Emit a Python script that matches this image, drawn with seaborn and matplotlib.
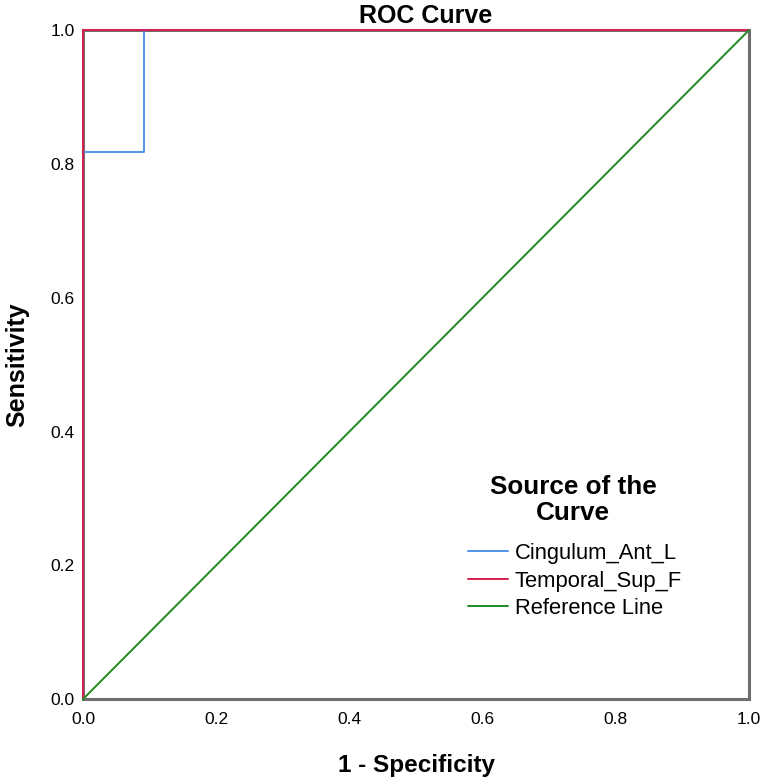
import matplotlib
matplotlib.use("Agg")
import matplotlib.pyplot as plt
import pandas as pd
import seaborn as sns

# ROC points
cing_fpr = [0.0, 0.0, 0.091, 0.091, 1.0]
cing_tpr = [0.0, 0.818, 0.818, 1.0, 1.0]
temp_fpr = [0.0, 0.0, 1.0]
temp_tpr = [0.0, 1.0, 1.0]
ref_fpr = [0.0, 1.0]
ref_tpr = [0.0, 1.0]

names = ["Cingulum_Ant_L", "Temporal_Sup_F", "Reference Line"]
colors = ["#4f95e6", "#d91e50", "#1f8a1f"]
ticks = [0.0, 0.2, 0.4, 0.6, 0.8, 1.0]

df = pd.concat([
    pd.DataFrame({"fpr": cing_fpr, "tpr": cing_tpr, "curve": names[0], "order": range(len(cing_fpr))}),
    pd.DataFrame({"fpr": temp_fpr, "tpr": temp_tpr, "curve": names[1], "order": range(len(temp_fpr))}),
    pd.DataFrame({"fpr": ref_fpr, "tpr": ref_tpr, "curve": names[2], "order": range(len(ref_fpr))}),
], ignore_index=True)

sns.set_style("white")
plt.rcParams["font.family"] = ["Liberation Sans", "DejaVu Sans"]
plt.rcParams["text.color"] = "black"

fig = plt.figure(figsize=(7.65, 7.82), dpi=100)
ax = fig.add_axes([0.1085, 0.106, 0.8706, 0.8555])

sns.lineplot(data=df, x="fpr", y="tpr", hue="curve", hue_order=names,
             palette=colors, estimator=None, sort=False, units="curve",
             linewidth=1.4, ax=ax, clip_on=False, zorder=3)

ax.set_xlim(0, 1)
ax.set_ylim(0, 1)
ax.set_xticks(ticks)
ax.set_yticks(ticks)
ax.set_xticklabels([f"{t:.1f}" for t in ticks])
ax.set_yticklabels([f"{t:.1f}" for t in ticks])
ax.tick_params(length=0, labelsize=12.5, colors="black")
ax.tick_params(axis="x", pad=9)
ax.tick_params(axis="y", pad=6)

for s in ax.spines.values():
    s.set_color("#6e6e6e")
    s.set_linewidth(2.2)

ax.set_title("ROC Curve", fontsize=18, fontweight="bold", pad=5, color="black", x=0.515)
ax.set_xlabel("1 - Specificity", fontsize=17.5, fontweight="bold", labelpad=20, color="black")
ax.set_ylabel("Sensitivity", fontsize=18, fontweight="bold", labelpad=15, color="black")

# legend title drawn as its own text so the gap to the entries matches
fig.text(573 / 765, 1 - 500 / 782, "Source of the\nCurve", ha="center", va="center",
         fontsize=18.8, fontweight="bold", linespacing=1.12, color="black")

leg = ax.legend(frameon=False, loc="upper left",
                bbox_to_anchor=(468 / 765, 1 - 543 / 782),
                bbox_transform=fig.transFigure, borderpad=0, borderaxespad=0,
                fontsize=15.8, handlelength=1.82,
                handletextpad=0.32, labelspacing=0.3)
for t in leg.get_texts():
    t.set_color("black")

fig.savefig("out.png", dpi=100)
